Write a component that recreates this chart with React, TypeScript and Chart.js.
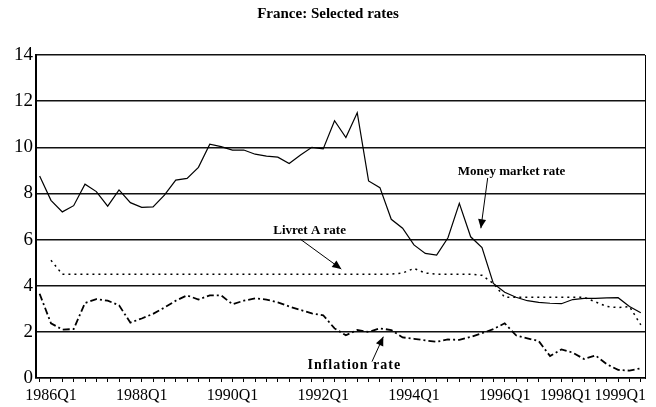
import React, { useEffect, useRef } from "react";
import { Chart, registerables } from "chart.js";

Chart.register(...registerables);

const quarters = [
  "1985Q4",
  "1986Q1", "1986Q2", "1986Q3", "1986Q4",
  "1987Q1", "1987Q2", "1987Q3", "1987Q4",
  "1988Q1", "1988Q2", "1988Q3", "1988Q4",
  "1989Q1", "1989Q2", "1989Q3", "1989Q4",
  "1990Q1", "1990Q2", "1990Q3", "1990Q4",
  "1991Q1", "1991Q2", "1991Q3", "1991Q4",
  "1992Q1", "1992Q2", "1992Q3", "1992Q4",
  "1993Q1", "1993Q2", "1993Q3", "1993Q4",
  "1994Q1", "1994Q2", "1994Q3", "1994Q4",
  "1995Q1", "1995Q2", "1995Q3", "1995Q4",
  "1996Q1", "1996Q2", "1996Q3", "1996Q4",
  "1997Q1", "1997Q2", "1997Q3", "1997Q4",
  "1998Q1", "1998Q2", "1998Q3", "1998Q4",
  "1999Q1",
];

const shownTickLabels = ["1986Q1", "1988Q1", "1990Q1", "1992Q1", "1994Q1", "1996Q1", "1998Q1", "1999Q1"];

const yTicks = [0, 2, 4, 6, 8, 10, 12, 14];

const moneyMarketRate = [
  8.76, 7.7, 7.2, 7.47, 8.4, 8.08, 7.45, 8.15, 7.6, 7.4,
  7.42, 7.93, 8.58, 8.65, 9.13, 10.13, 10.03, 9.88, 9.88, 9.7,
  9.62, 9.57, 9.3, 9.67, 10.0, 9.93, 11.15, 10.42, 11.5, 8.54,
  8.25, 6.88, 6.49, 5.77, 5.4, 5.33, 6.08, 7.57, 6.12, 5.65,
  4.1, 3.72, 3.5, 3.35, 3.28, 3.24, 3.22, 3.4, 3.45, 3.45,
  3.47, 3.48, 3.1, 2.83,
];

const livretARate = [
  null, 5.1, 4.5, 4.5, 4.5, 4.5, 4.5, 4.5, 4.5, 4.5,
  4.5, 4.5, 4.5, 4.5, 4.5, 4.5, 4.5, 4.5, 4.5, 4.5,
  4.5, 4.5, 4.5, 4.5, 4.5, 4.5, 4.5, 4.5, 4.5, 4.5,
  4.5, 4.5, 4.55, 4.75, 4.55, 4.5, 4.5, 4.5, 4.5, 4.45,
  4.1, 3.5, 3.5, 3.5, 3.5, 3.5, 3.5, 3.5, 3.5, 3.3,
  3.1, 3.05, 3.1, 2.3,
];

const inflationRate = [
  3.65, 2.37, 2.1, 2.12, 3.25, 3.42, 3.35, 3.15, 2.4, 2.58,
  2.78, 3.05, 3.35, 3.58, 3.4, 3.58, 3.58, 3.2, 3.35, 3.45,
  3.4, 3.28, 3.1, 2.95, 2.8, 2.72, 2.15, 1.85, 2.08, 2.0,
  2.15, 2.08, 1.76, 1.7, 1.63, 1.57, 1.67, 1.65, 1.78, 1.94,
  2.12, 2.37, 1.85, 1.72, 1.6, 0.95, 1.24, 1.1, 0.82, 0.98,
  0.6, 0.35, 0.32, 0.42,
];

// annotation labels with arrows, in data coordinates (quarter index, rate)
const annotationTexts = ["Money market rate", "Livret A rate", "Inflation rate"];
const annotationTextAt = [[41.6, 8.93], [23.8, 6.37], [27.7, 0.56]];
const annotationFontSize = [13, 13, 14];
const annotationLetterSpacing = [0, 0, 1];
const annotationArrowFrom = [[39.5, 8.67], [23.0, 6.01], [29.3, 0.71]];
const annotationArrowTo = [[38.9, 6.49], [26.6, 4.72], [30.3, 1.79]];

const SERIF = '"Liberation Serif", "Times New Roman", serif';

const toPoints = (arr: (number | null)[]) => arr.map((v, i) => ({ x: i, y: v }));

const xLabelsPlugin = {
  id: "xLabels",
  afterDraw(chart: any) {
    const ctx = chart.ctx;
    const xs = chart.scales.x;
    ctx.save();
    ctx.font = `16px ${SERIF}`;
    ctx.fillStyle = "#000";
    ctx.textAlign = "center";
    ctx.textBaseline = "middle";
    const items = shownTickLabels.map((l) => {
      const i = quarters.indexOf(l);
      return { l, cx: xs.getPixelForValue(i), w: ctx.measureText(l).width };
    });
    let limit = chart.width - 10;
    for (let k = items.length - 1; k >= 0; k--) {
      const it = items[k];
      const right = Math.min(it.cx + it.w / 2, limit);
      it.cx = right - it.w / 2;
      limit = right - it.w - 3;
    }
    const y = xs.bottom + 14;
    items.forEach((it) => ctx.fillText(it.l, it.cx, y));
    ctx.restore();
  },
};

const annotationPlugin = {
  id: "rateAnnotations",
  afterDatasetsDraw(chart: any) {
    const ctx = chart.ctx;
    const xs = chart.scales.x;
    const ys = chart.scales.y;
    const px = (p: number[]) => [xs.getPixelForValue(p[0]), ys.getPixelForValue(p[1])];
    ctx.save();
    ctx.fillStyle = "#000";
    ctx.strokeStyle = "#000";
    ctx.lineWidth = 1;
    ctx.textAlign = "center";
    ctx.textBaseline = "middle";
    annotationTexts.forEach((t, k) => {
      const [tx, ty] = px(annotationTextAt[k]);
      const ls = annotationLetterSpacing[k];
      ctx.font = `bold ${annotationFontSize[k]}px ${SERIF}`;
      if ("letterSpacing" in ctx) (ctx as any).letterSpacing = `${ls}px`;
      ctx.fillText(t, tx + ls / 2, ty);
      if ("letterSpacing" in ctx) (ctx as any).letterSpacing = "0px";
      const [fx, fy] = px(annotationArrowFrom[k]);
      const [ex, ey] = px(annotationArrowTo[k]);
      ctx.beginPath();
      ctx.moveTo(fx, fy);
      ctx.lineTo(ex, ey);
      ctx.stroke();
      const ang = Math.atan2(ey - fy, ex - fx);
      const len = 9;
      const half = 4;
      const bx = ex - len * Math.cos(ang);
      const by = ey - len * Math.sin(ang);
      ctx.beginPath();
      ctx.moveTo(ex, ey);
      ctx.lineTo(bx + half * Math.sin(ang), by - half * Math.cos(ang));
      ctx.lineTo(bx - half * Math.sin(ang), by + half * Math.cos(ang));
      ctx.closePath();
      ctx.fill();
    });
    ctx.restore();
  },
};

export default function App() {
  const canvasRef = useRef<HTMLCanvasElement | null>(null);

  useEffect(() => {
    document.body.style.margin = "0";
    const canvas = canvasRef.current;
    if (!canvas) return;
    const chart = new Chart(canvas, {
      type: "line",
      data: {
        datasets: [
          {
            label: "Money market rate",
            data: toPoints(moneyMarketRate),
            borderColor: "#000",
            borderWidth: 1.2,
            pointRadius: 0,
            tension: 0,
            fill: false,
          },
          {
            label: "Livret A rate",
            data: toPoints(livretARate),
            borderColor: "#000",
            borderWidth: 1.5,
            borderDash: [2, 4],
            pointRadius: 0,
            tension: 0,
            fill: false,
          },
          {
            label: "Inflation rate",
            data: toPoints(inflationRate),
            borderColor: "#000",
            borderWidth: 1.8,
            borderDash: [7, 3, 2, 3],
            pointRadius: 0,
            tension: 0,
            fill: false,
          },
        ],
      },
      options: {
        responsive: false,
        animation: false,
        layout: { padding: { left: 11, right: 11, top: 0, bottom: 25 } },
        plugins: {
          legend: { display: false },
          tooltip: { enabled: false },
          title: {
            display: true,
            text: "France: Selected rates",
            color: "#000",
            font: { family: SERIF, size: 15, weight: "bold" },
            padding: { top: 5, bottom: 32 },
          },
        },
        scales: {
          x: {
            type: "linear",
            min: -0.32,
            max: 53.37,
            afterBuildTicks: (scale: any) => {
              scale.ticks = quarters.map((_, i) => ({ value: i }));
            },
            ticks: { display: false },
            grid: {
              drawOnChartArea: false,
              drawTicks: true,
              tickLength: 4,
              color: "#000",
              lineWidth: 1,
            },
            border: { display: true, color: "#000", width: 1.5 },
          },
          y: {
            type: "linear",
            min: 0,
            max: 14,
            afterBuildTicks: (scale: any) => {
              scale.ticks = yTicks.map((v) => ({ value: v }));
            },
            ticks: {
              color: "#000",
              padding: 3,
              font: { family: SERIF, size: 19 },
            },
            grid: {
              color: "#111",
              lineWidth: 1.5,
              drawTicks: false,
            },
            border: { display: true, color: "#000", width: 2 },
          },
          y2: {
            type: "linear",
            position: "right",
            ticks: { display: false },
            grid: { drawOnChartArea: false, drawTicks: false },
            border: { display: true, color: "#000", width: 1 },
          },
        },
      },
      plugins: [xLabelsPlugin, annotationPlugin],
    });
    return () => chart.destroy();
  }, []);

  return (
    <div style={{ width: 656, height: 407, background: "#fff" }}>
      <canvas ref={canvasRef} width={656} height={407} />
    </div>
  );
}
